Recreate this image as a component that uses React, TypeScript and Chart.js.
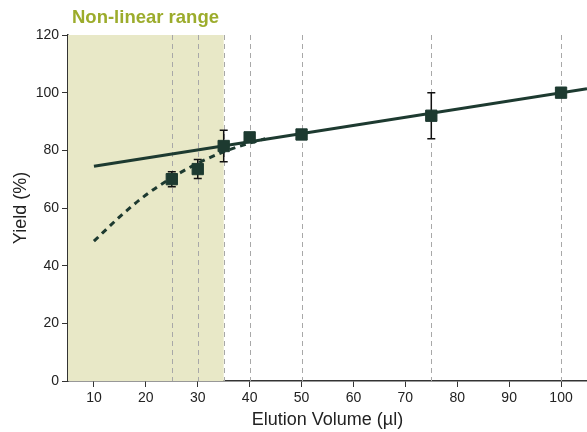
import React, { useEffect, useRef } from "react";
import { Chart, registerables } from "chart.js";

Chart.register(...registerables);

const volumes = [25, 30, 35, 40, 50, 75, 100];
const yields = [70, 73.5, 81.5, 84.5, 85.5, 92, 100];
const errors = [2.6, 3.3, 5.5, 0, 0, 8, 0];

const fitX = [10, 105];
const fitY = [74.5, 101.4];

const curveX = [10, 15, 20, 25, 30, 35, 40, 43];
const curveY = [48.5, 57, 64.5, 70.5, 75.5, 79.5, 82.5, 84];

const gridX = [25, 30, 35, 40, 50, 75, 100];
const shadeRange = [5, 35];
const xTicks = [10, 20, 30, 40, 50, 60, 70, 80, 90, 100];

const DARK = "#1d3a30";
const FONT = "'Liberation Sans', Arial, Helvetica, sans-serif";

export default function App() {
  const ref = useRef<HTMLCanvasElement>(null);

  useEffect(() => {
    document.body.style.margin = "0";
    const canvas = ref.current;
    if (!canvas) return;

    const decor = {
      id: "decor",
      beforeDatasetsDraw(chart: any) {
        const { ctx, chartArea, scales } = chart;
        const xs = scales.x;
        const ys = scales.y;
        ctx.save();
        const x0 = xs.getPixelForValue(shadeRange[0]);
        const x1 = xs.getPixelForValue(shadeRange[1]);
        ctx.fillStyle = "#e8e8c7";
        ctx.fillRect(x0, chartArea.top, x1 - x0, chartArea.bottom - chartArea.top);
        ctx.strokeStyle = "#a8a8a8";
        ctx.lineWidth = 1;
        ctx.setLineDash([5, 4]);
        gridX.forEach((v) => {
          const px = Math.round(xs.getPixelForValue(v)) + 0.5;
          ctx.beginPath();
          ctx.moveTo(px, chartArea.top);
          ctx.lineTo(px, chartArea.bottom);
          ctx.stroke();
        });
        ctx.setLineDash([]);
        ctx.strokeStyle = "#111";
        ctx.lineWidth = 1.5;
        volumes.forEach((v, i) => {
          const e = errors[i];
          if (!e) return;
          const px = xs.getPixelForValue(v);
          const top = ys.getPixelForValue(yields[i] + e);
          const bot = ys.getPixelForValue(yields[i] - e);
          ctx.beginPath();
          ctx.moveTo(px, top);
          ctx.lineTo(px, bot);
          ctx.moveTo(px - 4, top);
          ctx.lineTo(px + 4, top);
          ctx.moveTo(px - 4, bot);
          ctx.lineTo(px + 4, bot);
          ctx.stroke();
        });
        ctx.restore();
      },
      afterDraw(chart: any) {
        const { ctx, chartArea } = chart;
        ctx.save();
        ctx.fillStyle = "#9cac2c";
        ctx.font = `bold 18.5px ${FONT}`;
        ctx.textBaseline = "middle";
        ctx.textAlign = "left";
        ctx.fillText("Non-linear range", chartArea.left + 4, 18);
        ctx.restore();
      },
    };

    const chart = new Chart(canvas, {
      type: "scatter",
      data: {
        datasets: [
          {
            label: "Yield",
            data: volumes.map((x, i) => ({ x, y: yields[i] })),
            backgroundColor: DARK,
            borderColor: DARK,
            pointStyle: "rect",
            pointRadius: 8,
            pointHoverRadius: 8,
            showLine: false,
            order: 0,
          },
          {
            label: "Linear fit",
            data: fitX.map((x, i) => ({ x, y: fitY[i] })),
            borderColor: DARK,
            borderWidth: 3,
            pointRadius: 0,
            showLine: true,
            order: 1,
          },
          {
            label: "Non-linear",
            data: curveX.map((x, i) => ({ x, y: curveY[i] })),
            borderColor: DARK,
            borderWidth: 3,
            borderDash: [6, 5],
            pointRadius: 0,
            showLine: true,
            cubicInterpolationMode: "monotone",
            order: 2,
          },
        ],
      },
      options: {
        animation: false,
        responsive: false,
        maintainAspectRatio: false,
        layout: { autoPadding: false, padding: { top: 35, right: 0, left: 0, bottom: 0 } },
        plugins: {
          legend: { display: false },
          tooltip: { enabled: false },
          title: { display: false },
        },
        scales: {
          x: {
            type: "linear",
            min: 5,
            max: 105,
            afterBuildTicks: (scale: any) => {
              scale.ticks = xTicks.map((v) => ({ value: v }));
            },
            afterFit: (scale: any) => {
              scale.height = 51;
              scale.paddingLeft = 0;
              scale.paddingRight = 0;
            },
            ticks: {
              color: "#222",
              font: { family: FONT, size: 14 },
              padding: 3,
              maxRotation: 0,
            },
            grid: {
              drawOnChartArea: false,
              drawTicks: true,
              tickLength: 6,
              color: "#333",
            },
            border: { display: true, color: "#333", width: 1.5 },
            title: {
              display: true,
              text: "Elution Volume (µl)",
              color: "#222",
              font: { family: FONT, size: 18 },
              padding: { top: 0, bottom: 1 },
            },
          },
          y: {
            type: "linear",
            min: 0,
            max: 120,
            ticks: {
              stepSize: 20,
              color: "#222",
              font: { family: FONT, size: 14 },
              padding: 3,
            },
            afterFit: (scale: any) => {
              scale.width = 68;
              scale.paddingTop = 0;
              scale.paddingBottom = 0;
            },
            grid: {
              drawOnChartArea: false,
              drawTicks: true,
              tickLength: 6,
              color: "#333",
            },
            border: { display: true, color: "#333", width: 1.5 },
            title: {
              display: true,
              text: "Yield (%)",
              color: "#222",
              font: { family: FONT, size: 18 },
              padding: { top: 10, bottom: 0 },
            },
          },
        },
      },
      plugins: [decor],
    } as any);

    return () => chart.destroy();
  }, []);

  return (
    <div style={{ width: 587, height: 432 }}>
      <canvas ref={ref} width={587} height={432} style={{ width: 587, height: 432 }} />
    </div>
  );
}
